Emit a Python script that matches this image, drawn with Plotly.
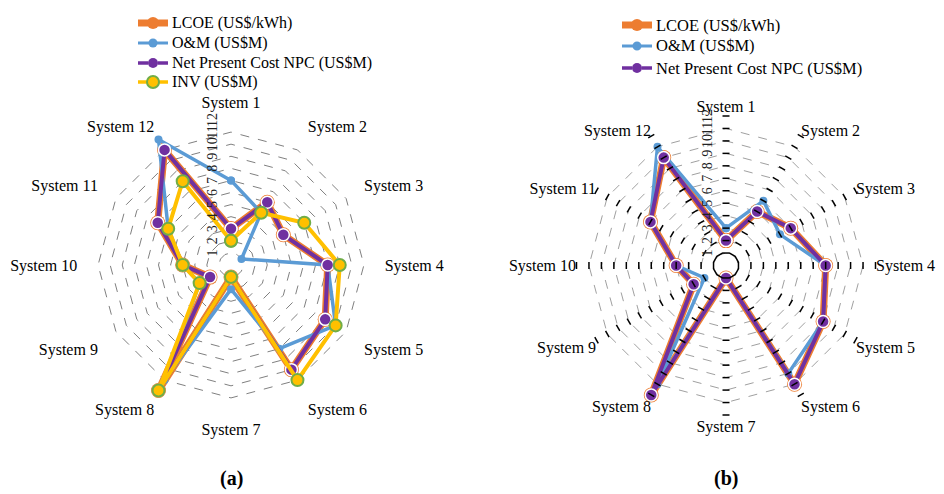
import plotly.graph_objects as go

# ---------------- data ----------------
systems = ["System 1", "System 2", "System 3", "System 4", "System 5", "System 6",
           "System 7", "System 8", "System 9", "System 10", "System 11", "System 12"]
radial_ticks = [1, 2, 3, 4, 5, 6, 7, 8, 9, 10, 11, 12]

# panel (a)
lcoe_a = [3, 6, 5, 8, 9, 10, 1, 12, 2, 4, 7, 11]
om_a   = [7, 5, 1, 8, 10, 8, 2, 11, 3, 4, 6, 12]
npc_a  = [3, 6, 5, 8, 9, 10, 1, 12, 2, 4, 7, 11]
inv_a  = [2, 5, 7, 9, 10, 11, 1, 12, 3, 4, 6, 8]

# panel (b)
lcoe_b = [2, 5, 6, 8, 9, 11, 1, 12, 3, 4, 7, 10]
om_b   = [3, 6, 5, 8, 9, 10, 1, 11, 2, 4, 7, 11]
npc_b  = [2, 5, 6, 8, 9, 11, 1, 12, 3, 4, 7, 10]

names = ["LCOE (US$/kWh)", "O&M (US$M)", "Net Present Cost NPC (US$M)", "INV (US$M)"]

# ---------------- styles ----------------
ORANGE = "#ED7D31"
BLUE = "#5B9BD5"
PURPLE = "#7030A0"
YELLOW = "#FFC000"
GREEN = "#70AD47"
SERIF = "Liberation Serif, Times New Roman, serif"

W, H = 936, 486  # page body has an 8px margin in the 944x494 window

STYLE = {
    "lcoe": dict(line=dict(color=ORANGE, width=7),
                 marker=dict(size=15, color=ORANGE, line=dict(width=0))),
    "om": dict(line=dict(color=BLUE, width=3.5),
               marker=dict(size=8, color=BLUE, line=dict(width=0))),
    "npc": dict(line=dict(color=PURPLE, width=4),
                marker=dict(size=12, color=PURPLE, line=dict(width=1.5, color="white"))),
    "inv": dict(line=dict(color=YELLOW, width=4),
                marker=dict(size=12, color=YELLOW, line=dict(width=2, color=GREEN))),
}

def close(v):
    return list(v) + [v[0]]

cats = close(systems)
fig = go.Figure()

def add_series(vals, name, subplot, kind):
    st = STYLE[kind]
    fig.add_trace(go.Scatterpolar(
        r=close(vals), theta=cats, mode="lines+markers", name=name,
        line=st["line"], marker=st["marker"], subplot=subplot,
        showlegend=False, cliponaxis=False))

add_series(lcoe_a, names[0], "polar", "lcoe")
add_series(om_a, names[1], "polar", "om")
add_series(npc_a, names[2], "polar", "npc")
add_series(inv_a, names[3], "polar", "inv")

add_series(lcoe_b, names[0], "polar2", "lcoe")
add_series(om_b, names[1], "polar2", "om")
add_series(npc_b, names[2], "polar2", "npc")

# tick marks on every spoke of panel (b), drawn on top
tick_r, tick_t, tick_ang = [], [], []
for i, s in enumerate(systems):
    for v in radial_ticks:
        tick_r.append(v)
        tick_t.append(s)
        tick_ang.append(i * 360 / len(systems))
fig.add_trace(go.Scatterpolar(
    r=tick_r, theta=tick_t, mode="markers", subplot="polar2", showlegend=False,
    hoverinfo="skip", cliponaxis=False,
    marker=dict(symbol="line-ew", size=5, angle=tick_ang,
                line=dict(width=1.5, color="black"))))

def polar_layout(cx, cy, rad, gridcolor, label_gap):
    # cx, cy, rad in page pixels (from top-left of figure)
    ang = dict(rotation=90, direction="clockwise", showgrid=False, showline=False,
               tickfont=dict(family=SERIF, size=16, color="black"))
    if label_gap:
        ang.update(ticks="outside", ticklen=label_gap, tickcolor="rgba(0,0,0,0)")
    else:
        ang.update(ticks="")
    return dict(
        domain=dict(x=[(cx - rad) / W, (cx + rad) / W],
                    y=[(H - cy - rad) / H, (H - cy + rad) / H]),
        bgcolor="white",
        gridshape="linear",
        radialaxis=dict(range=[0, 12], tickvals=radial_ticks, angle=90,
                        side="counterclockwise",
                        showline=False, ticks="outside", ticklen=8,
                        tickcolor="rgba(0,0,0,0)", showgrid=True,
                        gridcolor=gridcolor, griddash="dash", gridwidth=1,
                        tickfont=dict(family=SERIF, size=14, color="#222"),
                        tickangle=0),
        angularaxis=ang,
    )

# ---------------- hand-built legends ----------------
shapes, annotations = [], []

def px(x):
    return x / W

def py(y):
    return 1 - y / H

def legend_row(kind, label, x_line0, x_line1, y, fsize):
    xm = (x_line0 + x_line1) / 2
    if kind == "lcoe":
        shapes.append(dict(type="line", xref="paper", yref="paper", x0=px(x_line0), x1=px(x_line1),
                           y0=py(y), y1=py(y), line=dict(color=ORANGE, width=7)))
        circ = dict(r=6, fill=ORANGE, lc=ORANGE, lw=0)
    elif kind == "om":
        shapes.append(dict(type="line", xref="paper", yref="paper", x0=px(x_line0), x1=px(x_line1),
                           y0=py(y), y1=py(y), line=dict(color=BLUE, width=3)))
        circ = dict(r=4.5, fill=BLUE, lc=BLUE, lw=0)
    elif kind == "npc":
        shapes.append(dict(type="line", xref="paper", yref="paper", x0=px(x_line0), x1=px(xm - 5),
                           y0=py(y), y1=py(y), line=dict(color=PURPLE, width=3.5)))
        shapes.append(dict(type="line", xref="paper", yref="paper", x0=px(xm + 5), x1=px(x_line1),
                           y0=py(y), y1=py(y), line=dict(color=PURPLE, width=3.5)))
        circ = dict(r=5, fill=PURPLE, lc=PURPLE, lw=0)
    else:
        shapes.append(dict(type="line", xref="paper", yref="paper", x0=px(x_line0), x1=px(x_line1),
                           y0=py(y), y1=py(y), line=dict(color=YELLOW, width=3.5)))
        circ = dict(r=6, fill=YELLOW, lc=GREEN, lw=2)
    shapes.append(dict(type="circle", xref="paper", yref="paper",
                       xsizemode="pixel", ysizemode="pixel",
                       xanchor=px(xm), yanchor=py(y),
                       x0=-circ["r"], x1=circ["r"], y0=-circ["r"], y1=circ["r"],
                       fillcolor=circ["fill"],
                       line=dict(color=circ["lc"], width=circ["lw"])))
    annotations.append(dict(text=label, x=px(x_line1 + 2), y=py(y), xref="paper", yref="paper",
                            xanchor="left", yanchor="middle", showarrow=False,
                            font=dict(family=SERIF, size=fsize, color="black")))

kinds = ["lcoe", "om", "npc", "inv"]
rows_a = [15, 35, 55, 74]
for k, lab, y in zip(kinds, names, rows_a):
    legend_row(k, lab, 130, 160, y, 16)
rows_b = [17, 38, 60]
for k, lab, y in zip(kinds[:3], names[:3], rows_b):
    legend_row(k, lab, 614, 644, y, 16.5)

annotations.append(dict(text="<b>(a)</b>", x=px(223), y=py(470), xref="paper", yref="paper",
                        xanchor="center", yanchor="middle", showarrow=False,
                        font=dict(family=SERIF, size=20, color="black")))
annotations.append(dict(text="<b>(b)</b>", x=px(718), y=py(470), xref="paper", yref="paper",
                        xanchor="center", yanchor="middle", showarrow=False,
                        font=dict(family=SERIF, size=20, color="black")))

fig.update_layout(
    width=W, height=H,
    margin=dict(l=0, r=0, t=0, b=0),
    paper_bgcolor="white",
    showlegend=False,
    polar=polar_layout(223, 257, 145, "#808080", 5),
    polar2=polar_layout(718, 257.5, 149.5, "#a0a0a0", 0),
    shapes=shapes,
    annotations=annotations,
)

fig.write_html("out.html")
